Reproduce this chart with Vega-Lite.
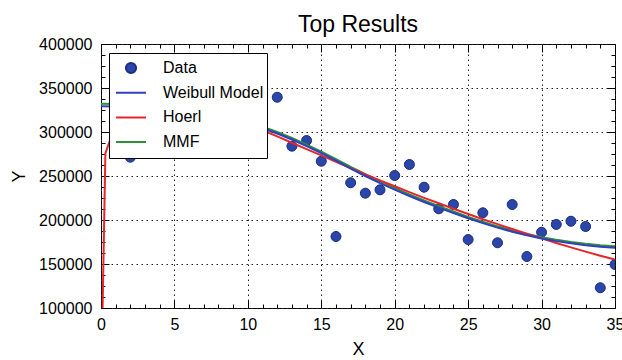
{
  "$schema": "https://vega.github.io/schema/vega-lite/v6.json",
  "width": 514,
  "height": 264,
  "autosize": {"type": "none"},
  "padding": {"left": 101, "top": 44, "right": 7, "bottom": 52},
  "background": "white",
  "title": {"text": "Top Results", "fontSize": 23, "font": "Liberation Sans", "fontWeight": "normal", "color": "black", "anchor": "middle", "frame": "group", "offset": 4, "dy": 5},
  "datasets": {
    "points": [
      {"series": "Data", "x": 2, "y": 271400},
      {"series": "Data", "x": 11, "y": 322500},
      {"series": "Data", "x": 12, "y": 339500},
      {"series": "Data", "x": 13, "y": 283900},
      {"series": "Data", "x": 14, "y": 290300},
      {"series": "Data", "x": 15, "y": 266800},
      {"series": "Data", "x": 16, "y": 181250},
      {"series": "Data", "x": 17, "y": 242300},
      {"series": "Data", "x": 18, "y": 230500},
      {"series": "Data", "x": 19, "y": 234300},
      {"series": "Data", "x": 20, "y": 250600},
      {"series": "Data", "x": 21, "y": 263100},
      {"series": "Data", "x": 22, "y": 237300},
      {"series": "Data", "x": 23, "y": 212700},
      {"series": "Data", "x": 24, "y": 217600},
      {"series": "Data", "x": 25, "y": 177800},
      {"series": "Data", "x": 26, "y": 208200},
      {"series": "Data", "x": 27, "y": 174100},
      {"series": "Data", "x": 28, "y": 217600},
      {"series": "Data", "x": 29, "y": 158500},
      {"series": "Data", "x": 30, "y": 186100},
      {"series": "Data", "x": 31, "y": 195000},
      {"series": "Data", "x": 32, "y": 198600},
      {"series": "Data", "x": 33, "y": 192600},
      {"series": "Data", "x": 34, "y": 123000},
      {"series": "Data", "x": 35, "y": 149400}
    ],
    "curves": [
      {"series": "MMF", "x": 0, "y": 332000},
      {"series": "MMF", "x": 1, "y": 331800},
      {"series": "MMF", "x": 2, "y": 331500},
      {"series": "MMF", "x": 3, "y": 330900},
      {"series": "MMF", "x": 4, "y": 330000},
      {"series": "MMF", "x": 5, "y": 328500},
      {"series": "MMF", "x": 6, "y": 326500},
      {"series": "MMF", "x": 7, "y": 323700},
      {"series": "MMF", "x": 8, "y": 320300},
      {"series": "MMF", "x": 9, "y": 316300},
      {"series": "MMF", "x": 10, "y": 311600},
      {"series": "MMF", "x": 11, "y": 306000},
      {"series": "MMF", "x": 12, "y": 300000},
      {"series": "MMF", "x": 13, "y": 293200},
      {"series": "MMF", "x": 14, "y": 285600},
      {"series": "MMF", "x": 15, "y": 277600},
      {"series": "MMF", "x": 16, "y": 269300},
      {"series": "MMF", "x": 17, "y": 260500},
      {"series": "MMF", "x": 18, "y": 252000},
      {"series": "MMF", "x": 19, "y": 244000},
      {"series": "MMF", "x": 20, "y": 236500},
      {"series": "MMF", "x": 21, "y": 229200},
      {"series": "MMF", "x": 22, "y": 222300},
      {"series": "MMF", "x": 23, "y": 215800},
      {"series": "MMF", "x": 24, "y": 209700},
      {"series": "MMF", "x": 25, "y": 203600},
      {"series": "MMF", "x": 26, "y": 198000},
      {"series": "MMF", "x": 27, "y": 192800},
      {"series": "MMF", "x": 28, "y": 188200},
      {"series": "MMF", "x": 29, "y": 184100},
      {"series": "MMF", "x": 30, "y": 180500},
      {"series": "MMF", "x": 31, "y": 177500},
      {"series": "MMF", "x": 32, "y": 175000},
      {"series": "MMF", "x": 33, "y": 173000},
      {"series": "MMF", "x": 34, "y": 171400},
      {"series": "MMF", "x": 35, "y": 170200},
      {"series": "Hoerl", "x": 0, "y": 0},
      {"series": "Hoerl", "x": 0.3, "y": 276000},
      {"series": "Hoerl", "x": 0.6, "y": 290000},
      {"series": "Hoerl", "x": 1, "y": 330000},
      {"series": "Hoerl", "x": 2, "y": 352000},
      {"series": "Hoerl", "x": 3, "y": 356000},
      {"series": "Hoerl", "x": 4, "y": 354000},
      {"series": "Hoerl", "x": 5, "y": 349500},
      {"series": "Hoerl", "x": 6, "y": 342500},
      {"series": "Hoerl", "x": 7, "y": 335000},
      {"series": "Hoerl", "x": 8, "y": 327200},
      {"series": "Hoerl", "x": 9, "y": 319000},
      {"series": "Hoerl", "x": 10, "y": 310600},
      {"series": "Hoerl", "x": 11, "y": 302000},
      {"series": "Hoerl", "x": 12, "y": 295000},
      {"series": "Hoerl", "x": 13, "y": 287800},
      {"series": "Hoerl", "x": 14, "y": 280500},
      {"series": "Hoerl", "x": 15, "y": 273400},
      {"series": "Hoerl", "x": 16, "y": 266100},
      {"series": "Hoerl", "x": 17, "y": 258900},
      {"series": "Hoerl", "x": 18, "y": 251900},
      {"series": "Hoerl", "x": 19, "y": 245000},
      {"series": "Hoerl", "x": 20, "y": 238300},
      {"series": "Hoerl", "x": 21, "y": 231700},
      {"series": "Hoerl", "x": 22, "y": 225200},
      {"series": "Hoerl", "x": 23, "y": 219000},
      {"series": "Hoerl", "x": 24, "y": 212800},
      {"series": "Hoerl", "x": 25, "y": 206800},
      {"series": "Hoerl", "x": 26, "y": 200900},
      {"series": "Hoerl", "x": 27, "y": 195300},
      {"series": "Hoerl", "x": 28, "y": 189700},
      {"series": "Hoerl", "x": 29, "y": 184300},
      {"series": "Hoerl", "x": 30, "y": 179100},
      {"series": "Hoerl", "x": 31, "y": 173900},
      {"series": "Hoerl", "x": 32, "y": 168900},
      {"series": "Hoerl", "x": 33, "y": 164100},
      {"series": "Hoerl", "x": 34, "y": 159400},
      {"series": "Hoerl", "x": 35, "y": 155000},
      {"series": "Weibull Model", "x": 0, "y": 329200},
      {"series": "Weibull Model", "x": 1, "y": 329100},
      {"series": "Weibull Model", "x": 2, "y": 328900},
      {"series": "Weibull Model", "x": 3, "y": 328400},
      {"series": "Weibull Model", "x": 4, "y": 327600},
      {"series": "Weibull Model", "x": 5, "y": 326300},
      {"series": "Weibull Model", "x": 6, "y": 324500},
      {"series": "Weibull Model", "x": 7, "y": 321800},
      {"series": "Weibull Model", "x": 8, "y": 318400},
      {"series": "Weibull Model", "x": 9, "y": 314400},
      {"series": "Weibull Model", "x": 10, "y": 309700},
      {"series": "Weibull Model", "x": 11, "y": 304300},
      {"series": "Weibull Model", "x": 12, "y": 298300},
      {"series": "Weibull Model", "x": 13, "y": 291500},
      {"series": "Weibull Model", "x": 14, "y": 284000},
      {"series": "Weibull Model", "x": 15, "y": 276000},
      {"series": "Weibull Model", "x": 16, "y": 267500},
      {"series": "Weibull Model", "x": 17, "y": 258500},
      {"series": "Weibull Model", "x": 18, "y": 250000},
      {"series": "Weibull Model", "x": 19, "y": 242000},
      {"series": "Weibull Model", "x": 20, "y": 234500},
      {"series": "Weibull Model", "x": 21, "y": 227300},
      {"series": "Weibull Model", "x": 22, "y": 220500},
      {"series": "Weibull Model", "x": 23, "y": 214000},
      {"series": "Weibull Model", "x": 24, "y": 208000},
      {"series": "Weibull Model", "x": 25, "y": 202000},
      {"series": "Weibull Model", "x": 26, "y": 196500},
      {"series": "Weibull Model", "x": 27, "y": 191300},
      {"series": "Weibull Model", "x": 28, "y": 186700},
      {"series": "Weibull Model", "x": 29, "y": 182600},
      {"series": "Weibull Model", "x": 30, "y": 179000},
      {"series": "Weibull Model", "x": 31, "y": 176000},
      {"series": "Weibull Model", "x": 32, "y": 173500},
      {"series": "Weibull Model", "x": 33, "y": 171400},
      {"series": "Weibull Model", "x": 34, "y": 169700},
      {"series": "Weibull Model", "x": 35, "y": 168400}
    ]
  },
  "layer": [
    {
      "data": {"name": "points"},
      "mark": {"type": "point", "filled": false, "fill": "#2a46a8", "fillOpacity": 1, "opacity": 1, "size": 865, "strokeWidth": 1, "clip": true},
      "encoding": {
        "x": {
          "field": "x", "type": "quantitative",
          "scale": {"domain": [0, 35], "nice": false, "zero": false},
          "axis": {
            "orient": "bottom",
            "title": "X",
            "titleFontSize": 18, "titleFont": "Liberation Sans", "titleFontWeight": "normal", "titleColor": "black", "titlePadding": 4,
            "values": [0,1,2,3,4,5,6,7,8,9,10,11,12,13,14,15,16,17,18,19,20,21,22,23,24,25,26,27,28,29,30,31,32,33,34,35],
            "labelExpr": "datum.value % 5 === 0 ? datum.label : ''",
            "labelFlush": false, "labelOverlap": false,
            "labelFontSize": 16, "labelFont": "Liberation Sans", "labelColor": "black", "labelPadding": 16,
            "ticks": true, "tickColor": "black", "tickWidth": 1,
            "tickSize": {"condition": {"test": "datum.value % 5 === 0", "value": -8}, "value": -4},
            "domain": false,
            "grid": true, "gridColor": "#222222", "gridDash": [1.5, 3.5], "gridWidth": 1,
            "gridOpacity": {"condition": {"test": "datum.value % 5 !== 0", "value": 0}, "value": 1}
          }
        },
        "y": {
          "field": "y", "type": "quantitative",
          "scale": {"domain": [100000, 400000], "nice": false, "zero": false},
          "axis": {
            "orient": "left",
            "title": "Y",
            "titleFontSize": 18, "titleFont": "Liberation Sans", "titleFontWeight": "normal", "titleColor": "black", "titlePadding": 10,
            "values": [100000,112500,125000,137500,150000,162500,175000,187500,200000,212500,225000,237500,250000,262500,275000,287500,300000,312500,325000,337500,350000,362500,375000,387500,400000],
            "format": "d",
            "labelExpr": "datum.value % 50000 === 0 ? datum.label : ''",
            "labelFlush": false, "labelOverlap": false,
            "labelFontSize": 16, "labelFont": "Liberation Sans", "labelColor": "black", "labelPadding": 17,
            "ticks": true, "tickColor": "black", "tickWidth": 1,
            "tickSize": {"condition": {"test": "datum.value % 50000 === 0", "value": -8}, "value": -4},
            "domain": false,
            "grid": true, "gridColor": "#222222", "gridDash": [1.5, 3.5], "gridWidth": 1,
            "gridOpacity": {"condition": {"test": "datum.value % 50000 !== 0", "value": 0}, "value": 1}
          }
        },
        "color": {
          "field": "series", "type": "nominal",
          "scale": {"domain": ["Data", "Weibull Model", "Hoerl", "MMF"], "range": ["#1c2d85", "#2e3fbf", "#e5262b", "#2f8f3a"]},
          "legend": {
            "title": null, "orient": "none", "legendX": 8, "legendY": 9,
            "fillColor": "white", "strokeColor": "black", "padding": 3,
            "symbolSize": 900, "symbolStrokeWidth": 2, "symbolOffset": 3, "labelOffset": 16,
            "labelFontSize": 16, "labelFont": "Liberation Sans", "labelColor": "black",
            "clipHeight": 24, "rowPadding": 0.7, "zindex": 1
          }
        },
        "shape": {
          "field": "series", "type": "nominal",
          "scale": {"domain": ["Data", "Weibull Model", "Hoerl", "MMF"], "range": ["M-0.34,0A0.34,0.34,0,1,0,0.34,0A0.34,0.34,0,1,0,-0.34,0Z", "stroke", "stroke", "stroke"]},
          "legend": {
            "title": null, "orient": "none", "legendX": 8, "legendY": 9,
            "fillColor": "white", "strokeColor": "black", "padding": 3,
            "symbolSize": 900, "symbolStrokeWidth": 2, "symbolOffset": 3, "labelOffset": 16,
            "labelFontSize": 16, "labelFont": "Liberation Sans", "labelColor": "black",
            "clipHeight": 24, "rowPadding": 0.7, "zindex": 1
          }
        }
      }
    },
    {
      "data": {"name": "curves"},
      "mark": {"type": "line", "strokeWidth": 2, "clip": true},
      "encoding": {
        "x": {
          "field": "x", "type": "quantitative",
          "axis": {
            "orient": "top", "title": null, "labels": false, "grid": false, "domain": false,
            "values": [0,1,2,3,4,5,6,7,8,9,10,11,12,13,14,15,16,17,18,19,20,21,22,23,24,25,26,27,28,29,30,31,32,33,34,35],
            "ticks": true, "tickColor": "black", "tickWidth": 1,
            "tickSize": {"condition": {"test": "datum.value % 5 === 0", "value": -8}, "value": -4}
          }
        },
        "y": {
          "field": "y", "type": "quantitative",
          "axis": {
            "orient": "right", "title": null, "labels": false, "grid": false, "domain": false,
            "values": [100000,112500,125000,137500,150000,162500,175000,187500,200000,212500,225000,237500,250000,262500,275000,287500,300000,312500,325000,337500,350000,362500,375000,387500,400000],
            "ticks": true, "tickColor": "black", "tickWidth": 1,
            "tickSize": {"condition": {"test": "datum.value % 50000 === 0", "value": -8}, "value": -4}
          }
        },
        "color": {"field": "series", "type": "nominal"}
      }
    }
  ],
  "resolve": {"axis": {"x": "independent", "y": "independent"}},
  "config": {
    "font": "Liberation Sans",
    "view": {"stroke": "black", "strokeWidth": 1}
  }
}
